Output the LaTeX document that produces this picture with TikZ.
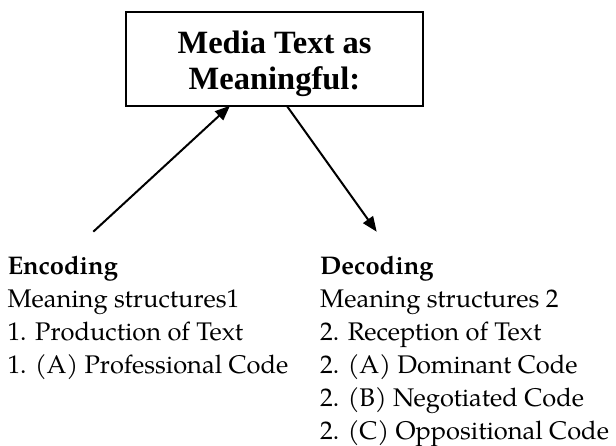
\documentclass[tikz,border=0pt]{standalone}
\usepackage{fontspec}
\newfontfamily\titlefont{Liberation Serif}
\newfontfamily\palfont{TeX Gyre Pagella}
\usetikzlibrary{arrows.meta,calc}
\begin{document}
\begin{tikzpicture}[x=1pt,y=-1pt,
  arr/.style={line width=2pt,-{Triangle[length=15pt,width=12pt]}},
  boxstyle/.style={draw,line width=2pt,outer sep=0pt,minimum width=297.6pt,minimum height=93.4pt,inner sep=0pt},
  titletext/.style={align=center,inner sep=0pt,font=\titlefont\bfseries\fontsize{32.5}{35.7}\selectfont},
  col/.style={anchor=base west,inner sep=0pt,font=\palfont\fontsize{25.5}{33}\selectfont}]
\useasboundingbox (0,0) rectangle (616,445);
\node[boxstyle] (box) at (274.5,59) {};
\node[titletext] (title) at (274.5,63.5) {Media Text as\\Meaningful:};
\node[col] (enc) at (7.3,274) {\begin{tabular}[t]{@{}l@{}}\textbf{Encoding}\\Meaning structures1\\1. Production of Text\\1. (A) Professional Code\end{tabular}};
\node[col] (dec) at (320,274) {\begin{tabular}[t]{@{}l@{}}\textbf{Decoding}\\Meaning structures 2\\2. Reception of Text\\2. (A) Dominant Code\\2. (B) Negotiated Code\\2. (C) Oppositional Code\end{tabular}};
\coordinate (encpt) at (93.3,231.7);
\coordinate (decpt) at (376.7,231.7);
\draw[arr] (encpt) -- ($(box.south west)+(104.3,0)$);
\draw[arr] ($(box.south west)+(161,0)$) -- (decpt);
\end{tikzpicture}
\end{document}
